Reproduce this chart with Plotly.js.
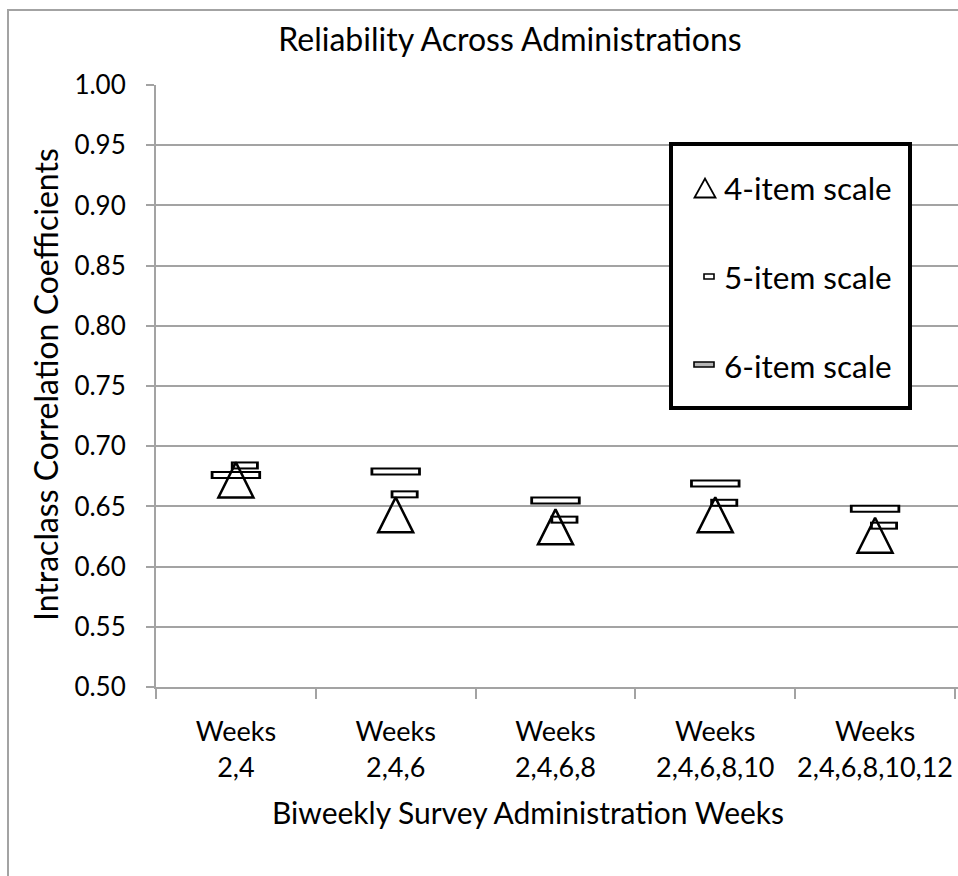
<!DOCTYPE html>
<html>
<head>
<meta charset="utf-8">
<script src="https://cdn.plot.ly/plotly-3.0.1.min.js"></script>
<style>html,body{margin:0;padding:0;background:#fff;}#chart{width:958px;height:876px;}</style>
</head>
<body>
<div id="chart"></div>
<script>
// ---- data ----
var categories = ["Weeks<br>2,4", "Weeks<br>2,4,6", "Weeks<br>2,4,6,8", "Weeks<br>2,4,6,8,10", "Weeks<br>2,4,6,8,10,12"];
var seriesNames = ["4-item scale", "5-item scale", "6-item scale"];
var item4 = [0.672, 0.643, 0.633, 0.643, 0.626];
var item5 = [0.684, 0.660, 0.639, 0.653, 0.634];
var item6 = [0.676, 0.679, 0.655, 0.669, 0.648];
var yTickVals = [0.50, 0.55, 0.60, 0.65, 0.70, 0.75, 0.80, 0.85, 0.90, 0.95, 1.00];

// ---- layout helpers ----
var FONT = "Lato, 'Open Sans', sans-serif";
var W = 958, H = 876, L = 156, R = 0, T = 85, B = 189;
var PW = W - L - R, PH = H - T - B;
function px(x) { return (x - L) / PW; }
function py(y) { return (T + PH - y) / PH; }
var idx = categories.map(function (_, i) { return i; });
var off5 = 9 / 161; // horizontal offset of 5-item marker (style)
var x5 = idx.map(function (i) { return i + off5; });
var GRAY = '#a3a3a3';

function rectTrace(x, y, size, lw, color, name, show) {
  return {
    type: 'scatter', mode: 'markers', x: x, y: y, name: name, showlegend: false,
    hoverinfo: show ? 'x+y+name' : 'skip', cliponaxis: false,
    marker: { symbol: 'line-ew-open', size: size, color: color, line: { width: lw, color: color } }
  };
}

var traces = [
  rectTrace(idx, item6, 36, 8, 'black', seriesNames[2], true),
  rectTrace(idx, item6, 32, 4, 'white', seriesNames[2], false),
  rectTrace(x5, item5, 20, 8, 'black', seriesNames[1], true),
  rectTrace(x5, item5, 16, 4, 'white', seriesNames[1], false),
  {
    // arrow-down shifted by standoff (centred), then rotated 180deg -> upward triangle centred on value
    type: 'scatter', mode: 'markers', x: idx, y: item4, name: seriesNames[0], showlegend: false,
    cliponaxis: false,
    marker: { symbol: 'arrow-down-open', angle: 180, size: 35, color: 'black', standoff: 17.5, line: { width: 2.5, color: 'black' } }
  }
];

var shapes = [
  // outer frame
  { type: 'rect', xref: 'paper', yref: 'paper', x0: px(8), x1: px(1040), y0: py(990), y1: py(10),
    line: { color: GRAY, width: 2 }, fillcolor: 'rgba(0,0,0,0)', layer: 'below' },
  // legend box
  { type: 'rect', xref: 'paper', yref: 'paper', x0: px(671), x1: px(910), y0: py(408), y1: py(144),
    line: { color: 'black', width: 4 }, fillcolor: 'white', layer: 'above' },
  // legend symbols
  { type: 'path', xref: 'paper', yref: 'paper', xsizemode: 'pixel', ysizemode: 'pixel',
    xanchor: px(705), yanchor: py(188), path: 'M-10.5,-9.5L10.5,-9.5L0,9.5Z',
    line: { color: 'black', width: 1.8 }, fillcolor: 'white' },
  { type: 'rect', xref: 'paper', yref: 'paper', xsizemode: 'pixel', ysizemode: 'pixel',
    xanchor: px(709), yanchor: py(276.5), x0: -5, x1: 5, y0: -2.5, y1: 2.5,
    line: { color: 'black', width: 1.6 }, fillcolor: 'white' },
  { type: 'rect', xref: 'paper', yref: 'paper', xsizemode: 'pixel', ysizemode: 'pixel',
    xanchor: px(704), yanchor: py(364.5), x0: -10, x1: 10, y0: -2.5, y1: 2.5,
    line: { color: 'black', width: 1.6 }, fillcolor: '#b5b5b5' }
];

var legendY = [188, 277, 366];
var annotations = seriesNames.map(function (n, i) {
  return { xref: 'paper', yref: 'paper', x: px(722), y: py(legendY[i]), xanchor: 'left', yanchor: 'middle',
    text: n, showarrow: false, font: { family: FONT, size: 31.5, color: 'black' } };
});
annotations.push({ xref: 'paper', yref: 'paper', x: px(45), y: py(385), xanchor: 'center', yanchor: 'middle',
  text: 'Intraclass Correlation Coefficients', textangle: -90, showarrow: false,
  font: { family: FONT, size: 32, color: 'black' } });
annotations.push({ xref: 'paper', yref: 'paper', x: px(528), y: py(812), xanchor: 'center', yanchor: 'middle',
  text: 'Biweekly Survey Administration Weeks', showarrow: false,
  font: { family: FONT, size: 30, color: 'black' } });

var layout = {
  width: W, height: H,
  margin: { l: L, r: R, t: T, b: B, pad: 0 },
  paper_bgcolor: 'white', plot_bgcolor: 'white',
  showlegend: false,
  title: { text: 'Reliability Across Administrations', x: 510 / W, xref: 'container', xanchor: 'center',
    y: 1 - 40 / H, yref: 'container', yanchor: 'middle', font: { family: FONT, size: 32, color: 'black' } },
  xaxis: {
    range: [-0.5, 4.519], tickmode: 'array', tickvals: idx, ticktext: categories, ticks: '',
    showgrid: false, zeroline: false, showline: true, linecolor: GRAY, linewidth: 2,
    tickfont: { family: FONT, size: 27, color: 'black' }, ticklabelstandoff: 20,
    minor: { tickmode: 'linear', tick0: -0.5, dtick: 1, ticks: 'outside', ticklen: 10, tickwidth: 2, tickcolor: GRAY, showgrid: false }
  },
  yaxis: {
    range: [0.5, 1.0], tickmode: 'array', tickvals: yTickVals, tickformat: '.2f',
    ticks: 'outside', ticklen: 8, tickwidth: 2, tickcolor: GRAY,
    showgrid: true, gridcolor: GRAY, gridwidth: 2, zeroline: false,
    showline: true, linecolor: GRAY, linewidth: 2,
    tickfont: { family: FONT, size: 26, color: 'black' }, ticklabelstandoff: 15
  },
  shapes: shapes,
  annotations: annotations
};

Plotly.newPlot('chart', traces, layout, { displayModeBar: false, staticPlot: true });
</script>
</body>
</html>
